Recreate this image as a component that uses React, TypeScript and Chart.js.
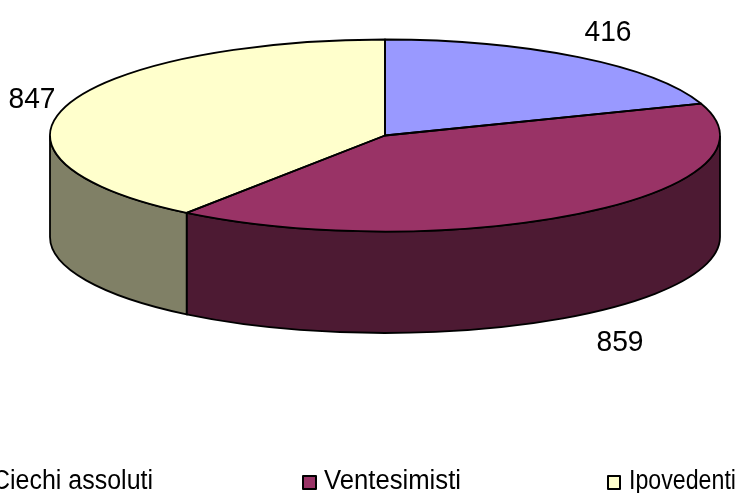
import React, { useEffect, useRef } from "react";
import { Chart, registerables } from "chart.js";

Chart.register(...registerables);

const categories = ["Ciechi assoluti", "Ventesimisti", "Ipovedenti"];
const values = [416, 859, 847];
const topColors = ["#9999FF", "#993366", "#FFFFCC"];
const wallColors = ["#4D4D80", "#4D1A33", "#808066"];
const valueLabelX = [608, 620, 32];
const valueLabelBaseline = [40.5, 351, 107.5];
const legendMarkerRects = [[-40, 476, 13, 13], [303, 476, 13, 13], [608, 476, 12, 13]];
const legendTextX = [-8, 324, 629];
const legendTextWidth = [161, 137, 107];

const CX = 385, CY = 135.5, RX = 335, RY = 96, DEPTH = 101.5;
const LINE = 1.8;
const FONT = '"Liberation Sans", Arial, sans-serif';

const pie3d = {
  id: "pie3d",
  beforeDatasetsDraw(chart: any) {
    const ctx = chart.ctx;
    const arcs = chart.getDatasetMeta(0).data;
    ctx.save();
    ctx.lineWidth = LINE;
    ctx.strokeStyle = "#000";
    arcs.forEach((arc: any, i: number) => {
      const a0 = Math.max(arc.startAngle, 0);
      const a1 = Math.min(arc.endAngle, Math.PI);
      if (a1 <= a0) return;
      ctx.beginPath();
      ctx.ellipse(CX, CY, RX, RY, 0, a0, a1);
      ctx.ellipse(CX, CY + DEPTH, RX, RY, 0, a1, a0, true);
      ctx.closePath();
      ctx.fillStyle = wallColors[i];
      ctx.fill();
      ctx.stroke();
    });
    const first = arcs[0];
    const R = first.outerRadius;
    ctx.restore();
    ctx.save();
    ctx.translate(CX, CY);
    ctx.scale(RX / R, RY / R);
    ctx.translate(-first.x, -first.y);
  },
  afterDatasetsDraw(chart: any) {
    const ctx = chart.ctx;
    ctx.restore();
    const arcs = chart.getDatasetMeta(0).data;
    ctx.save();
    ctx.lineWidth = LINE;
    ctx.strokeStyle = "#000";
    ctx.lineJoin = "round";
    arcs.forEach((arc: any) => {
      ctx.beginPath();
      ctx.moveTo(CX, CY);
      ctx.ellipse(CX, CY, RX, RY, 0, arc.startAngle, arc.endAngle);
      ctx.closePath();
      ctx.stroke();
    });
    ctx.fillStyle = "#000";
    ctx.textAlign = "center";
    ctx.textBaseline = "alphabetic";
    ctx.font = `30px ${FONT}`;
    values.forEach((v, i) => {
      ctx.fillText(String(v), valueLabelX[i], valueLabelBaseline[i], 47);
    });
    ctx.textAlign = "left";
    ctx.font = `27px ${FONT}`;
    categories.forEach((name, i) => {
      const [x, y, w, h] = legendMarkerRects[i];
      ctx.fillStyle = topColors[i];
      ctx.lineWidth = 2;
      ctx.fillRect(x, y, w, h);
      ctx.strokeRect(x, y, w, h);
      ctx.fillStyle = "#000";
      ctx.fillText(name, legendTextX[i], 488.5, legendTextWidth[i]);
    });
    ctx.restore();
  },
};

export default function App() {
  const ref = useRef<HTMLCanvasElement>(null);
  useEffect(() => {
    const chart = new Chart(ref.current!, {
      type: "pie",
      data: {
        labels: categories,
        datasets: [{ data: values, backgroundColor: topColors, borderWidth: 0 }],
      },
      options: {
        animation: false,
        responsive: false,
        plugins: { legend: { display: false }, tooltip: { enabled: false } },
      },
      plugins: [pie3d],
    } as any);
    return () => chart.destroy();
  }, []);
  return (
    <div style={{ position: "fixed", left: 0, top: 0, width: 737, height: 493, background: "#fff", overflow: "hidden" }}>
      <canvas ref={ref} width={737} height={493} style={{ display: "block" }} />
    </div>
  );
}
